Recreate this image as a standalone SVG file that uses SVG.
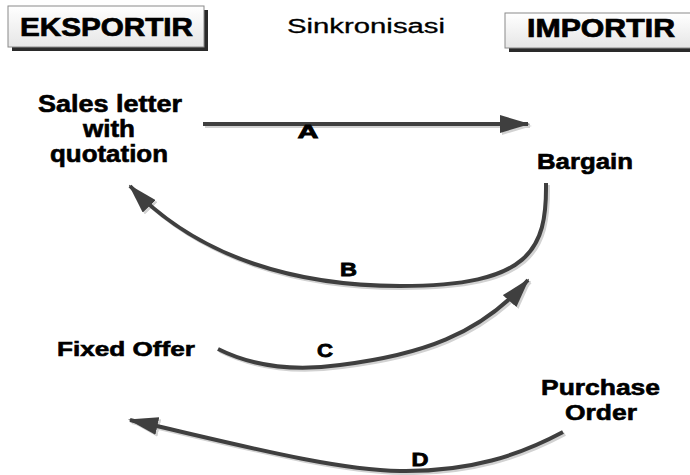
<svg xmlns="http://www.w3.org/2000/svg" width="690" height="475" viewBox="0 0 690 475">
<style>
.t{font-family:"Liberation Sans",Arial,sans-serif;font-weight:bold;fill:#000;stroke:#000;stroke-width:0.6;text-anchor:middle}
.h{font-family:"Liberation Sans",Arial,sans-serif;font-weight:bold;fill:#000;stroke:#000;stroke-width:0.7;text-anchor:middle;font-size:25px}
.s{font-family:"Liberation Sans",Arial,sans-serif;fill:#000;stroke:#000;stroke-width:0.3;text-anchor:middle;font-size:20px}
.lbl{font-family:"Liberation Sans",Arial,sans-serif;font-weight:bold;fill:#000;stroke:#000;stroke-width:0.8;text-anchor:middle;font-size:19px}
.ln{fill:none;stroke:#3f3f3f;stroke-width:4}
.sh{fill:none;stroke:#d2d2d2;stroke-width:4}
.box{fill:url(#bg);stroke:#8a8a8a;stroke-width:1}
.bsh{fill:#2a2a2a}
</style>
<defs>
<linearGradient id="bg" x1="0" y1="0" x2="0" y2="1">
<stop offset="0" stop-color="#ffffff"/>
<stop offset="1" stop-color="#e6e6e6"/>
</linearGradient>
<marker id="ah" viewBox="0 0 30 18" refX="28" refY="9" markerWidth="30" markerHeight="18" markerUnits="userSpaceOnUse" orient="auto">
<path d="M0,0 L30,9 L0,18 Z" fill="#3f3f3f"/>
</marker>
<marker id="ahs" viewBox="0 0 30 18" refX="28" refY="9" markerWidth="30" markerHeight="18" markerUnits="userSpaceOnUse" orient="auto">
<path d="M0,0 L30,9 L0,18 Z" fill="#d2d2d2"/>
</marker>
</defs>
<rect width="690" height="475" fill="#fff"/>

<g id="eksportir">
<rect class="bsh" x="12" y="10" width="196" height="41"/>
<rect class="box" x="8" y="6" width="196" height="41"/>
<text class="h" x="106.5" y="36" textLength="173" lengthAdjust="spacingAndGlyphs">EKSPORTIR</text>
</g>
<g id="importir">
<rect class="bsh" x="509" y="17" width="185" height="35"/>
<rect class="box" x="505" y="13" width="190" height="35"/>
<text class="h" x="601" y="37" textLength="148" lengthAdjust="spacingAndGlyphs">IMPORTIR</text>
</g>
<g id="sinkronisasi">
<text class="s" x="366" y="33" textLength="158" lengthAdjust="spacingAndGlyphs">Sinkronisasi</text>
</g>

<g id="connectors">
<path class="sh" d="M205,126 L530,126" marker-end="url(#ahs)"/>
<path class="ln" d="M203,124 L528,124" marker-end="url(#ah)"/>
<path class="sh" d="M548,185 C549,252 532,288 402,288 C302,288 202,262 132,188" marker-end="url(#ahs)"/>
<path class="ln" d="M546,183 C547,250 530,286 400,286 C300,286 200,260 130,186" marker-end="url(#ah)"/>
<path class="sh" d="M220,351 C252,367 292,374 342,367 C422,357 482,337 530,282" marker-end="url(#ahs)"/>
<path class="ln" d="M218,349 C250,365 290,372 340,365 C420,355 480,335 528,280" marker-end="url(#ah)"/>
<path class="sh" d="M565,434 C522,457 472,474 402,473 C332,472 222,442 132,422" marker-end="url(#ahs)"/>
<path class="ln" d="M563,432 C520,455 470,472 400,471 C330,470 220,440 130,420" marker-end="url(#ah)"/>
<text class="lbl" x="308" y="138" textLength="21" lengthAdjust="spacingAndGlyphs">A</text>
<text class="lbl" x="348.5" y="276" textLength="17" lengthAdjust="spacingAndGlyphs">B</text>
<text class="lbl" x="325" y="357" textLength="16" lengthAdjust="spacingAndGlyphs">C</text>
<text class="lbl" x="420" y="466" textLength="17" lengthAdjust="spacingAndGlyphs">D</text>
</g>

<g id="sales-letter">
<text class="t" font-size="23" x="110" y="112" textLength="144" lengthAdjust="spacingAndGlyphs">Sales letter</text>
<text class="t" font-size="23" x="109" y="137" textLength="52" lengthAdjust="spacingAndGlyphs">with</text>
<text class="t" font-size="23" x="109" y="162" textLength="118" lengthAdjust="spacingAndGlyphs">quotation</text>
</g>
<g id="bargain">
<text class="t" font-size="22" x="585" y="169" textLength="96" lengthAdjust="spacingAndGlyphs">Bargain</text>
</g>
<g id="fixed-offer">
<text class="t" font-size="21" x="126" y="356" textLength="138" lengthAdjust="spacingAndGlyphs">Fixed Offer</text>
</g>
<g id="purchase-order">
<text class="t" font-size="22" x="600.5" y="395" textLength="119" lengthAdjust="spacingAndGlyphs">Purchase</text>
<text class="t" font-size="22" x="601" y="420" textLength="72" lengthAdjust="spacingAndGlyphs">Order</text>
</g>
</svg>
